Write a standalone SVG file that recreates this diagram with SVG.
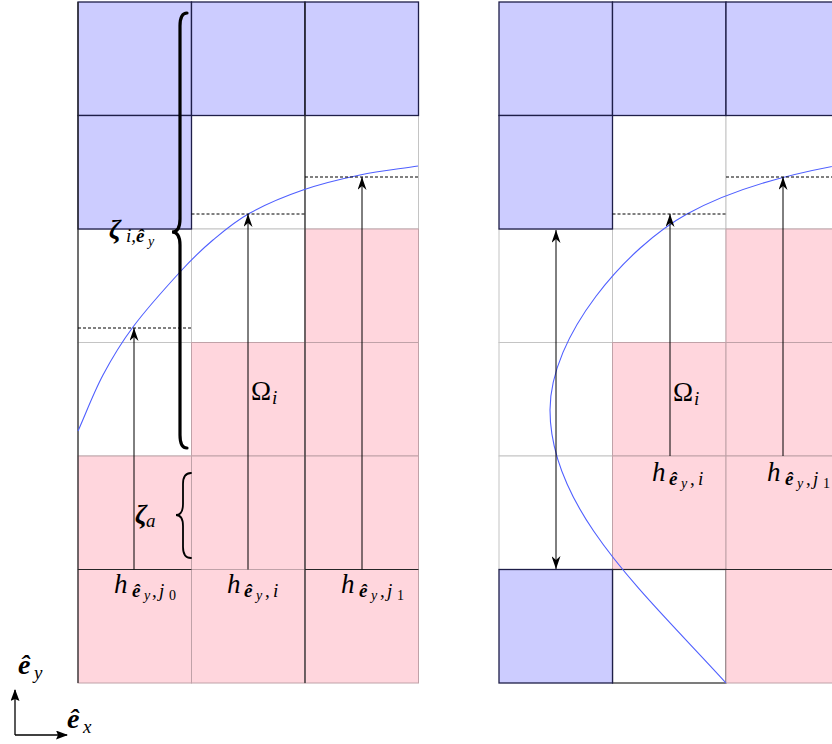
<svg xmlns="http://www.w3.org/2000/svg" width="832" height="744" viewBox="0 0 832 744">
<style>
.w{fill:#ffffff;stroke:#c4c4c4;stroke-width:1}
.p{fill:#ffd6dd;stroke:#c0a2a8;stroke-width:1}
.b{fill:#ccccff;stroke:#1e1e48;stroke-width:1.3}
.dk{stroke:#262626;stroke-width:1.2;fill:none}
.curve{fill:none;stroke:#4f5fff;stroke-width:1.1}
.dash{stroke:#000;stroke-width:1;stroke-dasharray:3,2;fill:none}
.arr{stroke:#000;stroke-width:1;fill:none;marker-end:url(#ah)}
.arr2{stroke:#000;stroke-width:1;fill:none;marker-start:url(#ah);marker-end:url(#ah)}
.ax{stroke:#000;stroke-width:1.3;fill:none;marker-end:url(#axh)}
.brace{fill:none;stroke:#000;stroke-linecap:round}
text{font-family:"Liberation Serif","DejaVu Serif",serif;fill:#000}
.m{font-size:27px;font-style:italic}
.s{font-size:19px;font-style:italic}
.ss{font-size:14px;font-style:italic}
.bd{font-weight:bold}
.up{font-style:normal}
</style>
<defs>
<marker id="ah" viewBox="0 0 13 9" refX="13" refY="4.5" markerWidth="13" markerHeight="9" orient="auto-start-reverse" markerUnits="userSpaceOnUse">
<path d="M0,0 L13,4.5 L0,9 L4,4.5 Z" fill="#000"/>
</marker>
<marker id="axh" viewBox="0 0 12 9" refX="11" refY="4.5" markerWidth="12" markerHeight="9" orient="auto" markerUnits="userSpaceOnUse">
<path d="M0,0 L12,4.5 L0,9 L2,4.5 Z" fill="#000"/>
</marker>
</defs>

<g id="left-grid">
<rect class="w" x="191.5" y="115.5" width="113.5" height="113.5"/>
<rect class="w" x="305" y="115.5" width="113.5" height="113.5"/>
<rect class="w" x="78" y="229" width="113.5" height="113.5"/>
<rect class="w" x="191.5" y="229" width="113.5" height="113.5"/>
<rect class="w" x="78" y="342.5" width="113.5" height="113.5"/>
<rect class="p" x="305" y="229" width="113.5" height="113.5"/>
<rect class="p" x="191.5" y="342.5" width="113.5" height="113.5"/>
<rect class="p" x="305" y="342.5" width="113.5" height="113.5"/>
<rect class="p" x="78" y="456" width="113.5" height="113.5"/>
<rect class="p" x="191.5" y="456" width="113.5" height="113.5"/>
<rect class="p" x="305" y="456" width="113.5" height="113.5"/>
<rect class="p" x="78" y="569.5" width="113.5" height="113.5"/>
<rect class="p" x="191.5" y="569.5" width="113.5" height="113.5"/>
<rect class="p" x="305" y="569.5" width="113.5" height="113.5"/>
<rect class="b" x="78" y="2" width="113.5" height="113.5"/>
<rect class="b" x="191.5" y="2" width="113.5" height="113.5"/>
<rect class="b" x="305" y="2" width="113.5" height="113.5"/>
<rect class="b" x="78" y="115.5" width="113.5" height="113.5"/>
<path class="dk" d="M78,2 V683 M305,2 V683 M78,569.5 H191.5 M305,569.5 H418.5"/>
</g>

<g id="right-grid">
<rect class="w" x="612.5" y="115.5" width="113.5" height="113.5"/>
<rect class="w" x="726" y="115.5" width="113.5" height="113.5"/>
<rect class="w" x="499" y="229" width="113.5" height="113.5"/>
<rect class="w" x="612.5" y="229" width="113.5" height="113.5"/>
<rect class="w" x="499" y="342.5" width="113.5" height="113.5"/>
<rect class="w" x="499" y="456" width="113.5" height="113.5"/>
<rect class="p" x="726" y="229" width="113.5" height="113.5"/>
<rect class="p" x="612.5" y="342.5" width="113.5" height="113.5"/>
<rect class="p" x="726" y="342.5" width="113.5" height="113.5"/>
<rect class="p" x="612.5" y="456" width="113.5" height="113.5"/>
<rect class="p" x="726" y="456" width="113.5" height="113.5"/>
<rect class="w" x="612.5" y="569.5" width="113.5" height="113.5" style="stroke:#262626;stroke-width:1.2"/>
<rect class="p" x="726" y="569.5" width="113.5" height="113.5"/>
<rect class="b" x="499" y="2" width="113.5" height="113.5"/>
<rect class="b" x="612.5" y="2" width="113.5" height="113.5"/>
<rect class="b" x="726" y="2" width="113.5" height="113.5"/>
<rect class="b" x="499" y="115.5" width="113.5" height="113.5"/>
<rect class="b" x="499" y="569.5" width="113.5" height="113.5"/>
<path class="dk" d="M612.5,569.5 H840"/>
</g>

<g id="curves">
<path class="curve" d="M78,431 C86.3,412.3 93.8,392.3 103,375 C112.2,357.7 120.2,344.2 133,327 C145.8,309.8 166.7,286.5 180,272 C193.3,257.5 201.3,249.8 213,240 C224.7,230.2 235,221.3 250,213 C265,204.7 284.7,196.3 303,190 C321.3,183.7 340.8,179 360,175 C379.2,171 398.7,169 418,166"/>
<path class="curve" d="M726,683 C646,595 550,510 550,410 C550,335 627,247 687,214 C737,186.5 800,172.2 840,165"/>
</g>

<g id="connectors">
<path class="dash" d="M78,328 H191.5 M191.5,214 H305 M305,177 H418.5 M612.5,214 H726 M726,177 H832"/>
<path class="arr" d="M134,569.5 V328"/>
<path class="arr" d="M248,569.5 V214"/>
<path class="arr" d="M362,569.5 V177"/>
<path class="arr" d="M670,456 V214"/>
<path class="arr" d="M783,456 V177"/>
<path class="arr2" d="M556,230 V569"/>
<path class="ax" d="M15,735 V690"/>
<path class="ax" d="M15,735 H67"/>
</g>

<g id="braces">
<path class="brace" stroke-width="3.2" d="M187,13 Q180,13 180,26 L180,219 Q180,232 172,232 Q180,232 180,245 L180,435 Q180,448 187,448"/>
<path class="brace" stroke-width="1.8" d="M191,473 Q183,473 183,484 L183,504 Q183,515 176,515 Q183,515 183,526 L183,547 Q183,558 191,558"/>
</g>

<g id="labels">
<text><tspan class="m bd" x="109" y="238">ζ</tspan><tspan class="s" x="126" y="242">i,</tspan><tspan class="s bd" x="136" y="242">ê</tspan><tspan class="ss" x="148" y="246">y</tspan></text>
<text><tspan class="m bd" x="135" y="523">ζ</tspan><tspan class="s" x="146" y="527">a</tspan></text>
<text><tspan class="m up" x="251" y="400">Ω</tspan><tspan class="s" x="272" y="404">i</tspan></text>
<text><tspan class="m up" x="673" y="401">Ω</tspan><tspan class="s" x="694" y="405">i</tspan></text>

<text><tspan class="m" x="114" y="593">h</tspan><tspan class="s bd" x="132" y="597">ê</tspan><tspan class="ss" x="144" y="600">y</tspan><tspan class="s up" x="152" y="597">,</tspan><tspan class="s" x="159" y="597">j</tspan><tspan class="ss up" x="169" y="600">0</tspan></text>
<text><tspan class="m" x="227" y="593">h</tspan><tspan class="s bd" x="244" y="597">ê</tspan><tspan class="ss" x="256" y="600">y</tspan><tspan class="s up" x="265" y="597">,</tspan><tspan class="s" x="273" y="597">i</tspan></text>
<text><tspan class="m" x="341" y="593">h</tspan><tspan class="s bd" x="359" y="597">ê</tspan><tspan class="ss" x="371" y="600">y</tspan><tspan class="s up" x="380" y="597">,</tspan><tspan class="s" x="387" y="597">j</tspan><tspan class="ss up" x="397" y="600">1</tspan></text>

<text><tspan class="m" x="652" y="481">h</tspan><tspan class="s bd" x="669" y="485">ê</tspan><tspan class="ss" x="681" y="488">y</tspan><tspan class="s up" x="690" y="485">,</tspan><tspan class="s" x="698" y="485">i</tspan></text>
<text><tspan class="m" x="767" y="481">h</tspan><tspan class="s bd" x="785" y="485">ê</tspan><tspan class="ss" x="797" y="488">y</tspan><tspan class="s up" x="806" y="485">,</tspan><tspan class="s" x="813" y="485">j</tspan><tspan class="ss up" x="823" y="488">1</tspan></text>

<text><tspan class="m bd" x="18" y="674" style="font-size:28px">ê</tspan><tspan class="s" x="34" y="679">y</tspan></text>
<text><tspan class="m bd" x="67" y="728" style="font-size:28px">ê</tspan><tspan class="s" x="83" y="733">x</tspan></text>
</g>
</svg>
